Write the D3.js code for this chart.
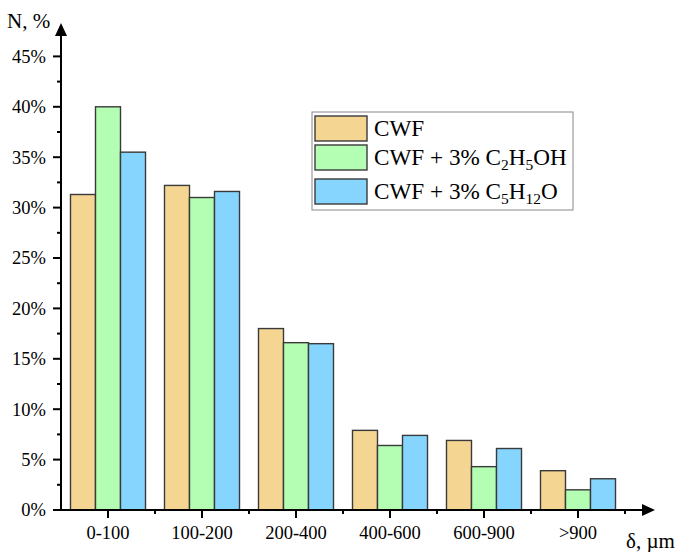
<!DOCTYPE html>
<html>
<head>
<meta charset="utf-8">
<script src="https://cdn.jsdelivr.net/npm/d3@7/dist/d3.min.js"></script>
<style>
  html, body { margin: 0; padding: 0; background: #fff; }
  svg { display: block; font-family: "Liberation Serif", "Times New Roman", serif; }
</style>
</head>
<body>
<svg id="chart" width="681" height="552"></svg>
<script>
// Particle size fractions (µm)
const categories = ["0-100", "100-200", "200-400", "400-600", "600-900", ">900"];

// Share of particles, %
const cwf        = [31.3, 32.2, 18.0, 7.9, 6.9, 3.9];
const cwfEthanol = [40.0, 31.0, 16.6, 6.4, 4.3, 2.0];
const cwfPentanol = [35.5, 31.6, 16.5, 7.4, 6.1, 3.1];

const seriesNames = ["CWF", "CWF + 3% C2H5OH", "CWF + 3% C5H12O"];
const seriesColors = ["#F5D592", "#B4FEB4", "#86D5FE"];
const yTicks = [0, 5, 10, 15, 20, 25, 30, 35, 40, 45];

const series = [cwf, cwfEthanol, cwfPentanol];

const svg = d3.select("#chart");

const x0 = 61, xEnd = 625, y0 = 510;
const x = d3.scaleBand().domain(categories).range([x0, xEnd])
  .paddingInner(0.202).paddingOuter(0.101);
const xs = d3.scaleBand().domain(d3.range(series.length)).range([0, x.bandwidth()]);
const y = d3.scaleLinear().domain([0, 45]).range([y0, 56.4]);

// Bars
const groups = svg.append("g").selectAll("g")
  .data(categories).join("g")
  .attr("transform", d => `translate(${x(d)},0)`);

groups.selectAll("rect")
  .data((c, i) => series.map((s, k) => ({ k, v: s[i] })))
  .join("rect")
  .attr("x", d => xs(d.k))
  .attr("y", d => y(d.v))
  .attr("width", xs.bandwidth())
  .attr("height", d => y0 - y(d.v))
  .attr("fill", d => seriesColors[d.k])
  .attr("stroke", "#3a3a3a")
  .attr("stroke-width", 1.4);

// Y axis
const ya = svg.append("g");
ya.append("line").attr("x1", x0).attr("x2", x0).attr("y1", y0 + 1).attr("y2", 34)
  .attr("stroke", "#000").attr("stroke-width", 2);
ya.append("path").attr("d", `M${x0},23 L${x0 - 6},36 L${x0 + 6},36 Z`).attr("fill", "#000");
yTicks.forEach(t => {
  ya.append("line").attr("x1", x0 - 8).attr("x2", x0).attr("y1", y(t)).attr("y2", y(t))
    .attr("stroke", "#000").attr("stroke-width", 2);
  ya.append("text").attr("x", 46).attr("y", y(t)).attr("dy", "0.35em")
    .attr("text-anchor", "end").attr("font-size", 18.5).text(t + "%");
});
d3.range(2.5, 45, 5).forEach(t => {
  ya.append("line").attr("x1", x0 - 4).attr("x2", x0).attr("y1", y(t)).attr("y2", y(t))
    .attr("stroke", "#000").attr("stroke-width", 2);
});
svg.append("text").attr("x", 7).attr("y", 28).attr("font-size", 21).text("N, %");

// X axis
const xa = svg.append("g");
xa.append("line").attr("x1", x0 - 1).attr("x2", 644).attr("y1", y0).attr("y2", y0)
  .attr("stroke", "#000").attr("stroke-width", 2);
xa.append("path").attr("d", `M655,${y0} L642,${y0 - 6} L642,${y0 + 6} Z`).attr("fill", "#000");
categories.forEach(c => {
  const cx = x(c) + x.bandwidth() / 2;
  xa.append("line").attr("x1", cx).attr("x2", cx).attr("y1", y0).attr("y2", y0 + 8)
    .attr("stroke", "#000").attr("stroke-width", 2);
  xa.append("text").attr("x", cx).attr("y", 539).attr("text-anchor", "middle")
    .attr("font-size", 18.5).text(c);
  const bx = x(c) + x.bandwidth() + x.step() * 0.101;
  xa.append("line").attr("x1", bx).attr("x2", bx).attr("y1", y0).attr("y2", y0 + 4)
    .attr("stroke", "#000").attr("stroke-width", 2);
});
svg.append("text").attr("x", 626).attr("y", 548).attr("font-size", 21).text("δ, µm");

// Legend
const lg = svg.append("g");
lg.append("rect").attr("x", 312).attr("y", 112).attr("width", 261).attr("height", 98)
  .attr("fill", "#fff").attr("stroke", "#888").attr("stroke-width", 1);
const swY = [116, 145, 179];
const txtY = [136, 165, 199];
const labelParts = [
  [["CWF", 0]],
  [["CWF + 3% C", 0], ["2", 1], ["H", 0], ["5", 1], ["OH", 0]],
  [["CWF + 3% C", 0], ["5", 1], ["H", 0], ["12", 1], ["O", 0]]
];
seriesNames.forEach((n, i) => {
  lg.append("rect").attr("x", 315).attr("y", swY[i]).attr("width", 52).attr("height", 25)
    .attr("fill", seriesColors[i]).attr("stroke", "#3a3a3a").attr("stroke-width", 1.4);
  const t = lg.append("text").attr("x", 374).attr("y", txtY[i]).attr("font-size", 23.2);
  let sub = 0;
  labelParts[i].forEach(([s, isSub]) => {
    const ts = t.append("tspan").text(s);
    if (isSub && !sub) { ts.attr("dy", 5).attr("font-size", 15.5); sub = 1; }
    else if (isSub) { ts.attr("font-size", 15.5); }
    else if (sub) { ts.attr("dy", -5); sub = 0; }
  });
});
</script>
</body>
</html>
